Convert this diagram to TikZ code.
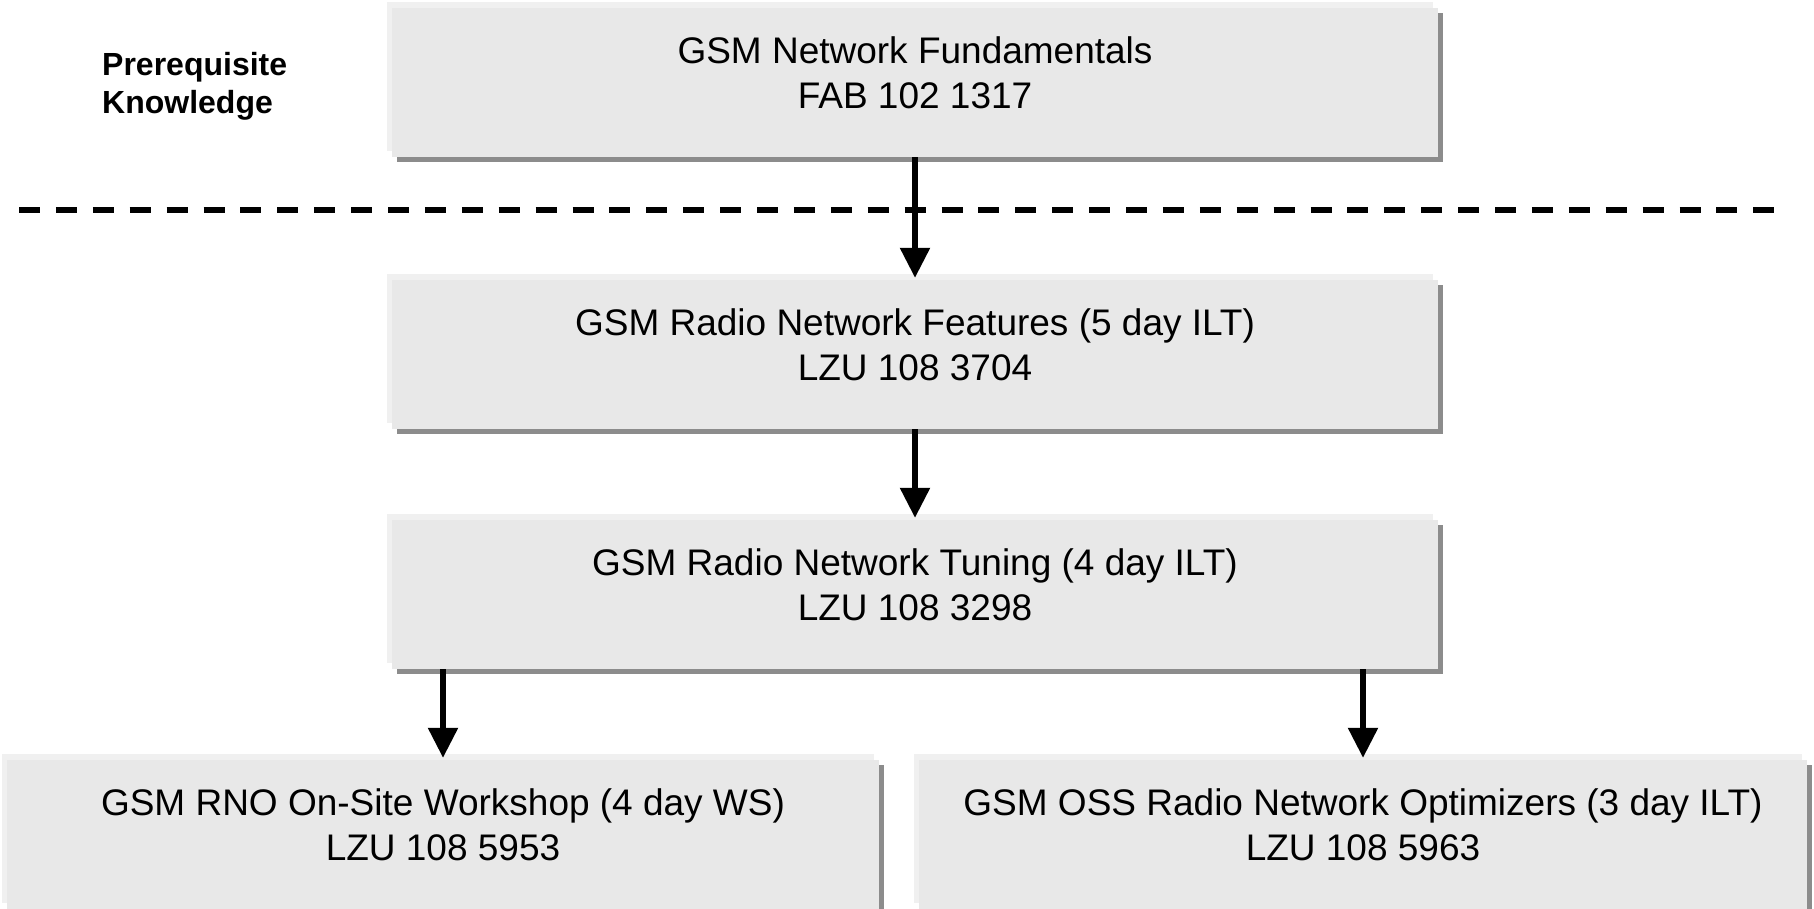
\documentclass[tikz,border=0pt]{standalone}
\usepackage{fontspec}
\setmainfont{Liberation Sans}
\usetikzlibrary{arrows.meta,shadows,calc}
\definecolor{boxfill}{HTML}{E8E8E8}
\definecolor{boxlight}{HTML}{F0F0F0}
\definecolor{boxshadow}{HTML}{8C8C8C}
\begin{document}
\begin{tikzpicture}[x=1pt,y=-1pt,
  course/.style={rectangle, inner sep=0pt, fill=boxfill, draw=none,
    general shadow={fill=boxlight, draw=none, shadow xshift=-5pt, shadow yshift=6pt},
    general shadow={fill=boxshadow, draw=none, shadow xshift=5pt, shadow yshift=-5pt}},
  widebox/.style={course, minimum width=1046pt, minimum height=149pt},
  ctext/.style={anchor=north, align=center, inner sep=0pt, font=\fontsize{37}{45}\selectfont},
  arr/.style={line width=5.5pt, -{Triangle[length=30pt,width=29pt]}},
  sepline/.style={line width=5.3pt, dash pattern=on 21pt off 15.9pt}]
\useasboundingbox (0,0) rectangle (1814,908);
\clip (0,0) rectangle (1814,908);

% boxes
\node[widebox] (b1) at (915,82.5) {};
\node[widebox] (b2) at (915,354.5) {};
\node[widebox] (b3) at (915,594.5) {};
\node[course, minimum width=872pt, minimum height=149pt] (b4) at (443,834.5) {};
\node[course, minimum width=888pt, minimum height=149pt] (b5) at (1363,834.5) {};

% texts
\node[ctext] (t1) at ($(b1.north)+(0,29)$) {GSM Network Fundamentals\\FAB 102 1317};
\node[ctext] (t2) at ($(b2.north)+(0,29)$) {GSM Radio Network Features (5 day ILT)\\LZU 108 3704};
\node[ctext] (t3) at ($(b3.north)+(0,29)$) {GSM Radio Network Tuning (4 day ILT)\\LZU 108 3298};
\node[ctext] (t4) at ($(b4.north)+(0,29)$) {GSM RNO On-Site Workshop (4 day WS)\\LZU 108 5953};
\node[ctext] (t5) at ($(b5.north)+(0,29)$) {GSM OSS Radio Network Optimizers (3 day ILT)\\LZU 108 5963};

\node[anchor=north west, align=left, inner sep=0pt, font=\fontsize{32}{38}\selectfont\bfseries] (pre) at (102,52) {Prerequisite\\Knowledge};

% separator
\coordinate (dl) at (19,210);
\coordinate (dr) at (1774.3,210);
\draw[sepline] (dl) -- (dr);

% connectors
\draw[arr] (b1.south) -- ([yshift=2pt]b2.north);
\draw[arr] (b2.south) -- ([yshift=2pt]b3.north);
\draw[arr] (b3.south -| b4.north) -- ([yshift=2pt]b4.north);
\draw[arr] (b3.south -| b5.north) -- ([yshift=2pt]b5.north);
\end{tikzpicture}
\end{document}
